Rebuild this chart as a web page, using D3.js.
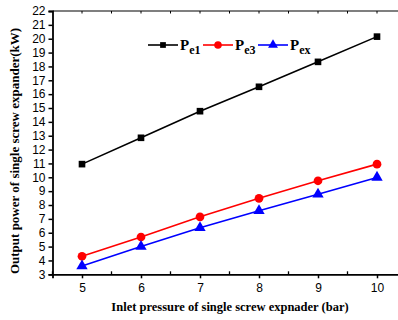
<!DOCTYPE html>
<html>
<head>
<meta charset="utf-8">
<script src="https://cdn.jsdelivr.net/npm/d3@7"></script>
<style>
  body { margin: 0; background: #fff; }
  svg { display: block; }
</style>
</head>
<body>
<div id="chart"></div>
<script>
const pressures = [5, 6, 7, 8, 9, 10];
const pe1 = [10.95, 12.85, 14.77, 16.53, 18.33, 20.15];
const pe3 = [4.3, 5.69, 7.15, 8.48, 9.75, 10.95];
const pex = [3.6, 5.0, 6.36, 7.59, 8.77, 9.99];
const yTicks = d3.range(3, 23);
const xTicks = [5, 6, 7, 8, 9, 10];

const series = [
  { key: 'e1', values: pe1, color: '#000', symbol: d3.symbolSquare, size: 44 },
  { key: 'e3', values: pe3, color: '#ff0000', symbol: d3.symbolCircle, size: 60 },
  { key: 'ex', values: pex, color: '#0000ff', symbol: d3.symbolTriangle, size: 56 }
];

const width = 398, height = 320;
const margin = { top: 11, left: 52.5, bottom: 274.3 };

const svg = d3.select('#chart').append('svg')
  .attr('width', width)
  .attr('height', height);

const x = d3.scaleLinear().domain([4.5, 10.5]).range([margin.left, 406.5]);
const y = d3.scaleLinear().domain([3, 22]).range([margin.bottom, margin.top]);

const sans = 'Liberation Sans, Arial, sans-serif';
const serif = 'Liberation Serif, Times New Roman, serif';

// frame top line
svg.append('line')
  .attr('x1', x(4.5)).attr('x2', x(10.5))
  .attr('y1', y(22)).attr('y2', y(22))
  .attr('stroke', '#000').attr('stroke-width', 1.2);

// bottom axis
const xAxis = svg.append('g')
  .attr('transform', `translate(0,${y(3)})`)
  .call(d3.axisBottom(x).tickValues(xTicks).tickSize(4).tickPadding(5).tickFormat(d3.format('d')));
xAxis.select('.domain').attr('stroke-width', 1.8);
xAxis.selectAll('.tick line').attr('stroke-width', 1.5);
xAxis.selectAll('text').style('font-family', sans).style('font-size', '12px').attr('fill', '#000');

const xMinor = d3.range(4.5, 10.6, 0.5).filter(v => !xTicks.includes(v));
svg.append('g').selectAll('line').data(xMinor).join('line')
  .attr('x1', d => x(d)).attr('x2', d => x(d))
  .attr('y1', y(3)).attr('y2', y(3) - 3)
  .attr('stroke', '#000').attr('stroke-width', 1.3);

// top ticks
svg.append('g').selectAll('line').data(d3.range(5, 10.6, 0.5)).join('line')
  .attr('x1', d => x(d)).attr('x2', d => x(d))
  .attr('y1', y(22)).attr('y2', y(22) + 2.5)
  .attr('stroke', '#000').attr('stroke-width', 1);

// left axis
const yAxis = svg.append('g')
  .attr('transform', `translate(${margin.left},0)`)
  .call(d3.axisLeft(y).tickValues(yTicks).tickSize(4).tickPadding(3).tickFormat(d3.format('d')));
yAxis.select('.domain').attr('stroke-width', 1.8);
yAxis.selectAll('.tick line').attr('stroke-width', 1.5);
yAxis.selectAll('text').style('font-family', sans).style('font-size', '12px').attr('fill', '#000');

// axis titles
svg.append('text')
  .attr('transform', `translate(19,151) rotate(-90)`)
  .attr('text-anchor', 'middle')
  .style('font-family', serif).style('font-weight', 'bold').style('font-size', '13px')
  .text('Output power of single screw expander(kW)');

svg.append('text')
  .attr('x', 230).attr('y', 311)
  .attr('text-anchor', 'middle')
  .style('font-family', serif).style('font-weight', 'bold').style('font-size', '12.5px')
  .text('Inlet pressure of single screw expnader (bar)');

// lines and markers
const line = d3.line().x((d, i) => x(pressures[i])).y(d => y(d));

series.forEach(s => {
  svg.append('path')
    .datum(s.values)
    .attr('d', line)
    .attr('fill', 'none')
    .attr('stroke', s.color)
    .attr('stroke-width', 1.6);

  svg.append('g').selectAll('path').data(s.values).join('path')
    .attr('transform', (d, i) => `translate(${x(pressures[i])},${y(d)})`)
    .attr('d', d3.symbol().type(s.symbol).size(s.size))
    .attr('fill', s.color);
});

// legend
const legendX = [148, 203, 258];
const legend = svg.append('g');
series.forEach((s, i) => {
  const lx = legendX[i], ly = 45;
  legend.append('line')
    .attr('x1', lx).attr('x2', lx + 30)
    .attr('y1', ly).attr('y2', ly)
    .attr('stroke', s.color).attr('stroke-width', 1.6);
  legend.append('path')
    .attr('transform', `translate(${lx + 15},${ly})`)
    .attr('d', d3.symbol().type(s.symbol).size(s.size * 0.75))
    .attr('fill', s.color);
  const t = legend.append('text')
    .attr('x', lx + 32).attr('y', ly + 5)
    .style('font-family', serif).style('font-weight', 'bold').style('font-size', '15px');
  t.append('tspan').text('P');
  t.append('tspan').attr('dy', 4).style('font-size', '12px').text(s.key);
});
</script>
</body>
</html>
